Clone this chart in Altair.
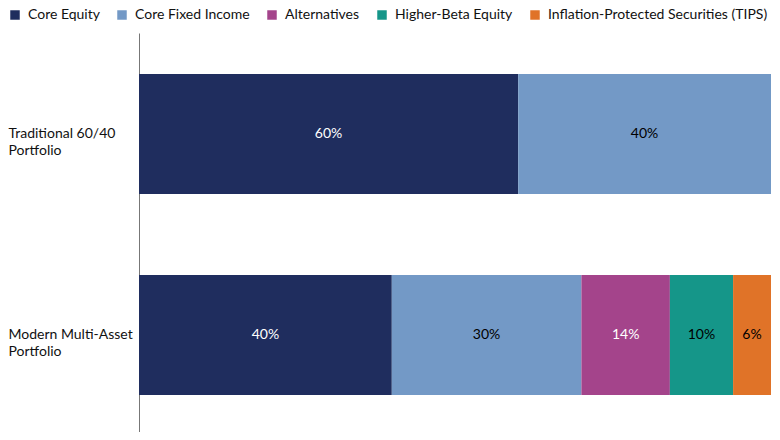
import pandas as pd
import altair as alt

# portfolios and allocation categories
portfolios = ["Traditional 60/40 Portfolio", "Modern Multi-Asset Portfolio"]
categories = [
    "Core Equity",
    "Core Fixed Income",
    "Alternatives",
    "Higher-Beta Equity",
    "Inflation-Protected Securities (TIPS)",
]
colors = ["#1f2d5e", "#7399c6", "#a4448b", "#159689", "#e07328"]
label_colors = ["white", "black", "white", "black", "black"]

traditional = [60, 40, 0, 0, 0]
modern = [40, 30, 14, 10, 6]

rows = []
for p, values in zip(portfolios, [traditional, modern]):
    start = 0
    for i, (c, v) in enumerate(zip(categories, values)):
        if v == 0:
            continue
        rows.append({
            "portfolio": p,
            "category": c,
            "order": i,
            "value": v,
            "start": start,
            "end": start + v,
            "mid": start + v / 2,
            "label": f"{v}%",
            "text_color": label_colors[i],
        })
        start += v
df = pd.DataFrame(rows)

y_enc = alt.Y(
    "portfolio:N",
    sort=portfolios,
    title=None,
    scale=alt.Scale(paddingInner=0.403, paddingOuter=0.194, align=0.526),
    axis=alt.Axis(
        ticks=False,
        domainColor="#777777",
        labelAlign="left",
        labelPadding=131,
        labelFontSize=14,
        labelColor="#111111",
        labelLineHeight=17,
        labelExpr="datum.label == 'Traditional 60/40 Portfolio' ? ['Traditional 60/40', 'Portfolio'] : ['Modern Multi-Asset', 'Portfolio']",
    ),
)

bars = alt.Chart(df).mark_bar(strokeWidth=0).encode(
    x=alt.X("start:Q", scale=alt.Scale(domain=[0, 100], nice=False), axis=None),
    x2="end:Q",
    y=y_enc,
    color=alt.Color(
        "category:N",
        scale=alt.Scale(domain=categories, range=colors),
        legend=alt.Legend(
            title=None,
            orient="none",
            legendX=-131,
            legendY=-25,
            direction="horizontal",
            symbolType="square",
            symbolSize=90,
            symbolStrokeWidth=0,
            symbolOpacity=1,
            labelFontSize=14,
            labelLimit=400,
            labelColor="#111111",
            columnPadding=15,
            labelOffset=6,
            columns=5,
        ),
    ),
)

texts = alt.Chart(df).mark_text(fontSize=14).encode(
    x="mid:Q",
    y=alt.Y("portfolio:N", sort=portfolios),
    text="label:N",
    color=alt.Color("text_color:N", scale=None),
)

chart = (bars + texts).properties(
    width=632,
    height=399,
    padding=0,
).configure(
    font="Lato",
).configure_view(stroke=None).configure_axis(grid=False)

chart.save("out.html", embed_options={"renderer": "svg", "actions": False})
